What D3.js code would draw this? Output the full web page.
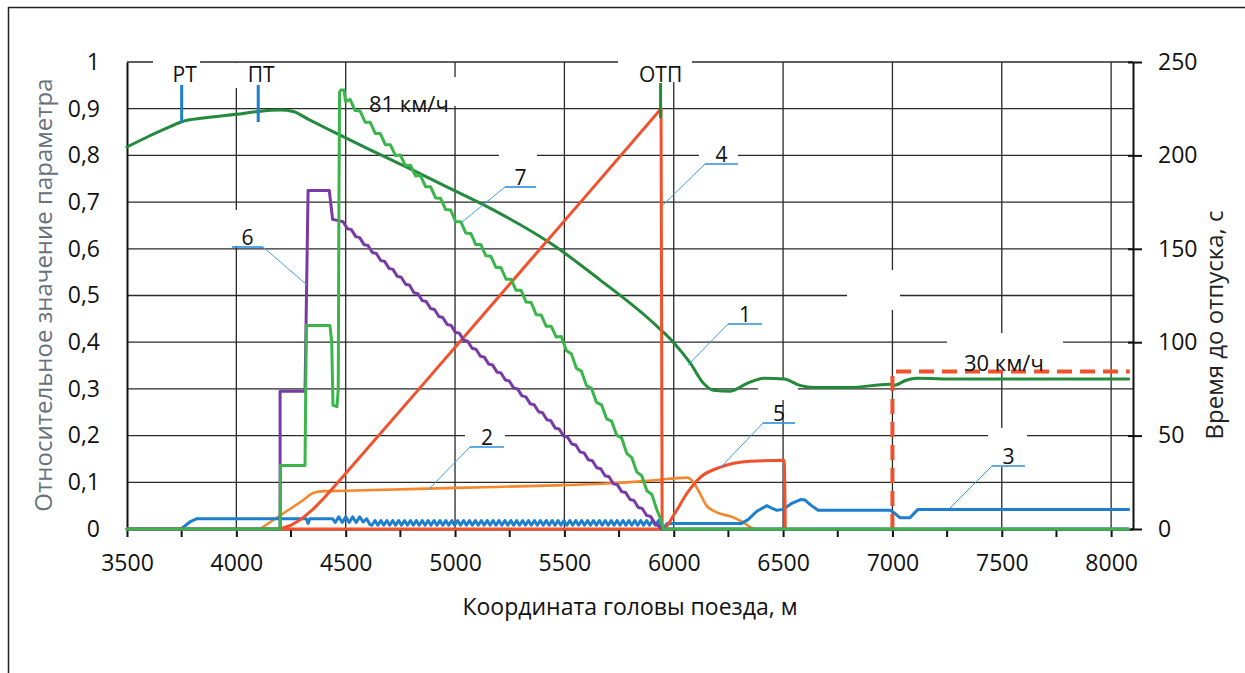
<!DOCTYPE html>
<html>
<head>
<meta charset="utf-8">
<script src="https://cdn.jsdelivr.net/npm/d3@7"></script>
<style>
body { margin: 0; background: #fff; }
text { font-family: "Open Sans", sans-serif; }
</style>
</head>
<body>
<svg id="mainsvg" width="1245" height="673"></svg>
<script>
// ---- data (x: координата, м; y: относительное значение) ----
const xTicks = [3500, 4000, 4500, 5000, 5500, 6000, 6500, 7000, 7500, 8000];
const xMinorTicks = [3750, 4250, 4750, 5250, 5750, 6250, 6750, 7250, 7750];
const yTicks = [0, 0.1, 0.2, 0.3, 0.4, 0.5, 0.6, 0.7, 0.8, 0.9, 1];
const yRightTicks = [0, 50, 100, 150, 200, 250];

// 1 - dark green
const series1 = [[3500,0.818],[3600,0.841],[3700,0.862],[3750,0.872],[3850,0.880],[4000,0.888],[4100,0.894],
  [4200,0.897],[4260,0.894],[4330,0.877],[4428,0.854],[4612,0.812],[4800,0.770],[5000,0.724],[5164,0.686],
  [5449,0.608],[5664,0.533],[5893,0.447],[5998,0.400],[6076,0.355],[6136,0.312],
  [6181,0.297],[6259,0.295],[6336,0.312],[6413,0.323],[6505,0.321],[6581,0.307],[6642,0.303],[6800,0.303],
  [6988,0.310],[7010,0.308],[7060,0.318],[7113,0.323],[7300,0.321],[8080,0.321]];

// 2 - orange
const series2 = [[4108,0],[4200,0.029],[4300,0.060],[4352,0.077],[4400,0.081],[4500,0.082],[5000,0.088],
  [5500,0.094],[5725,0.098],[5900,0.104],[6060,0.110],[6090,0.100],[6120,0.076],[6150,0.050],[6195,0.036],
  [6272,0.025],[6318,0.014],[6350,0.004],[6365,0]];

// 3 - blue
const series3 = [[3500,0],[3747,0],[3790,0.016],[3820,0.022],[4320,0.022],[4328,0.012],[4336,0.022],[4440,0.022],
  [4452,0.014],[4468,0.026],[4484,0.014],[4500,0.026],[4516,0.014],[4532,0.026],[4548,0.014],[4564,0.026],
  [4580,0.015],[4596,0.022],[4610,0.010],[4620,0.008],
  [4634,0.018],[4647,0.008],[4661,0.018],[4674,0.008],[4688,0.018],[4701,0.008],[4715,0.018],[4728,0.008],
  [4742,0.018],[4755,0.008],[4769,0.018],[4782,0.008],[4796,0.018],[4809,0.008],[4823,0.018],[4836,0.008],
  [4850,0.018],[4863,0.008],[4877,0.018],[4890,0.008],[4904,0.018],[4917,0.008],[4931,0.018],[4944,0.008],
  [4958,0.018],[4971,0.008],[4985,0.018],[4998,0.008],[5012,0.018],[5025,0.008],[5039,0.018],[5052,0.008],
  [5066,0.018],[5079,0.008],[5093,0.018],[5106,0.008],[5120,0.018],[5133,0.008],[5147,0.018],[5160,0.008],
  [5174,0.018],[5187,0.008],[5201,0.018],[5214,0.008],[5228,0.018],[5241,0.008],[5255,0.018],[5268,0.008],
  [5282,0.018],[5295,0.008],[5309,0.018],[5322,0.008],[5336,0.018],[5349,0.008],[5363,0.018],[5376,0.008],
  [5390,0.018],[5403,0.008],[5417,0.018],[5430,0.008],[5444,0.018],[5457,0.008],[5471,0.018],[5484,0.008],
  [5498,0.018],[5511,0.008],[5525,0.018],[5538,0.008],[5552,0.018],[5565,0.008],[5579,0.018],[5592,0.008],
  [5606,0.018],[5619,0.008],[5633,0.018],[5646,0.008],[5660,0.018],[5673,0.008],[5687,0.018],[5700,0.008],
  [5714,0.018],[5727,0.008],[5741,0.018],[5754,0.008],[5768,0.018],[5781,0.008],[5795,0.018],[5808,0.008],
  [5822,0.018],[5835,0.008],[5849,0.018],[5862,0.008],[5876,0.018],[5889,0.008],[5903,0.018],[5916,0.008],
  [5930,0.018],[5940,0.008],
  [5950,0],[5970,0.012],[6310,0.012],[6340,0.020],[6380,0.038],[6426,0.050],[6450,0.044],[6472,0.040],
  [6500,0.042],[6540,0.055],[6580,0.063],[6600,0.062],[6630,0.050],[6660,0.040],[6990,0.040],[7015,0.032],
  [7035,0.024],[7080,0.024],[7100,0.034],[7117,0.042],[8080,0.042]];

// 4 - red, время до отпуска, с (правая ось)
const series4 = [[4200,0],[4250,2],[4300,5.5],[4350,10.5],[4400,16.5],[4465,25],[4821,73],[5205,125],
  [5589,177],[5942,225],[5947,0]];

// 5 - red
const series5 = [[3500,0],[5952,0],[6000,0.030],[6060,0.076],[6120,0.110],[6211,0.132],[6348,0.145],
  [6505,0.147],[6510,0]];

// 6 - purple
const series6 = [[3500,0],[4200,0],[4200,0.295],[4314,0.295],[4328,0.725],[4425,0.725],[4440,0.663],
  [4470,0.660],[4488,0.658],[4508,0.643],[4526,0.641],[4546,0.626],[4564,0.624],[4584,0.609],[4602,0.607],
  [4622,0.592],[4640,0.590],[4660,0.575],[4678,0.573],[4698,0.558],[4716,0.556],[4736,0.541],[4754,0.539],
  [4774,0.524],[4792,0.522],[4812,0.506],[4830,0.504],[4850,0.489],[4868,0.487],[4888,0.472],[4906,0.470],
  [4926,0.455],[4944,0.453],[4964,0.438],[4982,0.436],[5002,0.421],[5020,0.419],[5040,0.404],[5058,0.402],
  [5078,0.387],[5096,0.385],[5116,0.370],[5134,0.368],[5154,0.353],[5172,0.351],[5192,0.336],[5210,0.334],
  [5230,0.319],[5248,0.317],[5268,0.302],[5286,0.300],[5306,0.285],[5324,0.283],[5344,0.268],[5362,0.266],
  [5382,0.251],[5400,0.249],[5420,0.234],[5438,0.232],[5458,0.216],[5476,0.214],[5496,0.199],[5514,0.197],
  [5534,0.182],[5552,0.180],[5572,0.165],[5590,0.163],[5610,0.148],[5628,0.146],[5648,0.131],[5666,0.129],
  [5686,0.114],[5704,0.112],[5724,0.097],[5742,0.095],[5762,0.080],[5780,0.078],[5800,0.063],[5818,0.061],
  [5838,0.046],[5856,0.044],[5876,0.029],[5894,0.027],[5914,0.012],[5932,0.006],[5945,0],[8080,0]];

// 7 - light green
const series7 = [[3500,0],[4200,0],[4202,0.136],[4314,0.136],[4320,0.436],[4428,0.436],[4436,0.40],
  [4442,0.265],[4460,0.262],[4466,0.30],[4469,0.70],[4472,0.935],[4478,0.94],[4492,0.94],[4500,0.915],
  [4510,0.918],[4520,0.920],[4543,0.896],[4566,0.895],[4589,0.871],[4612,0.871],[4635,0.847],[4658,0.847],
  [4681,0.823],[4704,0.823],[4727,0.800],[4750,0.801],[4773,0.778],[4796,0.779],[4819,0.756],[4842,0.757],
  [4865,0.733],[4888,0.733],[4911,0.709],[4934,0.708],[4957,0.684],[4980,0.683],[5003,0.658],[5026,0.658],
  [5049,0.634],[5072,0.633],[5095,0.609],[5118,0.609],[5141,0.585],[5164,0.584],[5187,0.560],[5210,0.560],
  [5233,0.535],[5256,0.535],[5279,0.511],[5302,0.511],[5325,0.486],[5348,0.485],[5371,0.459],[5394,0.458],
  [5417,0.434],[5440,0.434],[5463,0.411],[5486,0.412],[5509,0.382],[5532,0.375],[5555,0.344],[5578,0.338],
  [5601,0.307],[5624,0.301],[5647,0.271],[5670,0.266],[5693,0.236],[5716,0.231],[5739,0.201],[5762,0.195],
  [5785,0.162],[5808,0.153],[5831,0.122],[5854,0.114],[5877,0.082],[5900,0.074],[5923,0.041],[5937,0.025],
  [5952,0],[8080,0]];

// ограничение скорости 30 км/ч
const speedLimit = [[7000,0],[7000,0.337],[8085,0.337]];

const markers = [
  {label: 'РТ', x: 3750},
  {label: 'ПТ', x: 4100},
  {label: 'ОТП', x: 5940}
];

// ---- layout ----
const svg = d3.select('#mainsvg');
const width = +svg.attr('width');
const height = +svg.attr('height');
const margin = {top: 62, right: 112, bottom: 144, left: 127};
const innerWidth = width - margin.left - margin.right;
const innerHeight = height - margin.top - margin.bottom;

const xScale = d3.scaleLinear().domain([3500, 8100]).range([0, innerWidth]);
const yScale = d3.scaleLinear().domain([0, 1]).range([innerHeight, 0]);
const yRight = d3.scaleLinear().domain([0, 250]).range([innerHeight, 0]);

// outer frame
svg.append('rect')
  .attr('x', 8.5).attr('y', 7.5)
  .attr('width', 1300).attr('height', 700)
  .attr('fill', 'none').attr('stroke', '#222').attr('stroke-width', 1.5);

const g = svg.append('g').attr('id', 'maingroup')
  .attr('transform', `translate(${margin.left}, ${margin.top})`);
const gridG = g.append('g');
const gapG = g.append('g').attr('transform', `translate(${-margin.left}, ${-margin.top})`);
const axisG = g.append('g');
const seriesG = g.append('g');
const annoG = svg.append('g');

// grid
gridG.append('g').selectAll('line').data(yTicks.filter(d => d > 0)).join('line')
  .attr('x1', 0).attr('x2', innerWidth)
  .attr('y1', d => yScale(d)).attr('y2', d => yScale(d))
  .attr('stroke', '#2a2a2a').attr('stroke-width', 1.3);
gridG.append('g').selectAll('line').data(xTicks.filter(d => d > 3500)).join('line')
  .attr('x1', d => xScale(d)).attr('x2', d => xScale(d))
  .attr('y1', 0).attr('y2', innerHeight)
  .attr('stroke', '#2a2a2a').attr('stroke-width', 1.3);

// white boxes behind labels break the grid like in the original
const gaps = [[153,55,47,30],[228,63,58,25],[618,55,74,27],[360,77,100,29],[499,150,38,40],[699,148,39,20],
  [758,380,40,20],[465,425,40,20],[847,270,53,40],[947,333,116,40],[988,428,39,39],[225,210,40,36]];
gapG.selectAll('rect').data(gaps).join('rect')
  .attr('x', d => d[0]).attr('y', d => d[1]).attr('width', d => d[2]).attr('height', d => d[3])
  .attr('fill', '#fff');

// axes
const fmt = d => (d === 0 || d === 1) ? String(d) : d3.format('.1f')(d).replace('.', ',');
const yAxisG = axisG.append('g')
  .call(d3.axisLeft(yScale).tickValues(yTicks).tickFormat(fmt).tickSize(0).tickPadding(27));
yAxisG.select('.domain').attr('stroke', '#111').attr('stroke-width', 2);

const yRightG = axisG.append('g').attr('transform', `translate(${innerWidth}, 0)`)
  .call(d3.axisRight(yRight).tickValues(yRightTicks).tickSizeInner(9).tickSizeOuter(0).tickPadding(16));
yRightG.select('.domain').attr('stroke', '#111').attr('stroke-width', 2);
yRightG.selectAll('.tick line').attr('x1', -5).attr('stroke', '#111').attr('stroke-width', 2);

const xAxisG = axisG.append('g').attr('transform', `translate(0, ${innerHeight})`)
  .call(d3.axisBottom(xScale).tickValues(xTicks).tickFormat(d3.format('d'))
    .tickSizeInner(8).tickSizeOuter(0).tickPadding(18));
xAxisG.select('.domain').attr('stroke', '#111').attr('stroke-width', 2);
xAxisG.selectAll('.tick line').attr('stroke', '#111').attr('stroke-width', 2);
axisG.append('g').selectAll('line').data(xMinorTicks).join('line')
  .attr('x1', d => xScale(d)).attr('x2', d => xScale(d))
  .attr('y1', innerHeight).attr('y2', innerHeight + 8)
  .attr('stroke', '#111').attr('stroke-width', 2);

axisG.selectAll('.tick text').attr('font-size', 23).attr('fill', '#111')
  .attr('font-family', '"Open Sans", sans-serif');

// series
const lineL = (curve) => d3.line().x(d => xScale(d[0])).y(d => yScale(d[1])).curve(curve);
const lineR = d3.line().x(d => xScale(d[0])).y(d => yRight(d[1])).curve(d3.curveLinear);

const draw = (path, color, w) => seriesG.append('path')
  .attr('d', path).attr('fill', 'none').attr('stroke', color)
  .attr('stroke-width', w).attr('stroke-linejoin', 'round').attr('stroke-linecap', 'round');

draw(lineL(d3.curveMonotoneX)(series1), '#23893b', 3);
draw(lineL(d3.curveMonotoneX)(series2), '#f5872c', 2.6);
draw(lineL(d3.curveLinear)(series3), '#1f7fcf', 3);
draw(lineR(series4), '#f1512b', 3);
draw(lineL(d3.curveMonotoneX)(series5), '#f1512b', 3);
draw(lineL(d3.curveLinear)(series6), '#7a3aa5', 3);

seriesG.append('path')
  .attr('d', lineL(d3.curveLinear)(speedLimit))
  .attr('fill', 'none').attr('stroke', '#f0502a').attr('stroke-width', 4)
  .attr('stroke-dasharray', '15 8');

draw(lineL(d3.curveLinear)(series7), '#3ab54a', 3);

// markers РТ, ПТ, ОТП
const mk = seriesG.append('g');
mk.selectAll('line').data(markers).join('line')
  .attr('x1', d => xScale(d.x)).attr('x2', d => xScale(d.x))
  .attr('y1', (d, i) => i === 2 ? 21 : 23).attr('y2', (d, i) => i === 2 ? 56 : 60)
  .attr('stroke', (d, i) => i === 2 ? '#23893b' : '#1f7fcf').attr('stroke-width', 3);
mk.selectAll('text').data(markers).join('text')
  .attr('x', d => xScale(d.x) + (d.label === 'ОТП' ? 0 : 3))
  .attr('y', 20)
  .attr('text-anchor', 'middle').attr('font-size', 21).attr('fill', '#111')
  .text(d => d.label);

// speed annotations
annoG.append('text').attr('x', 369).attr('y', 112).attr('font-size', 22).attr('fill', '#111').text('81 км/ч');
annoG.append('text').attr('x', 964).attr('y', 371).attr('font-size', 22).attr('fill', '#111').text('30 км/ч');

// curve number callouts
const callouts = [
  {t: '6', x1: 232, x2: 263, y: 247, from: 'right', ex: 307, ey: 285},
  {t: '7', x1: 505, x2: 536, y: 187, from: 'left', ex: 462, ey: 222},
  {t: '4', x1: 705, x2: 738, y: 164, from: 'left', ex: 663, ey: 205},
  {t: '1', x1: 728, x2: 762, y: 324, from: 'left', ex: 688, ey: 365},
  {t: '2', x1: 470, x2: 504, y: 447, from: 'left', ex: 428, ey: 490},
  {t: '5', x1: 763, x2: 795, y: 423, from: 'left', ex: 720, ey: 468},
  {t: '3', x1: 992, x2: 1025, y: 466, from: 'left', ex: 950, ey: 508}
];
annoG.selectAll('line.under').data(callouts).join('line').attr('class', 'under')
  .attr('x1', d => d.x1).attr('x2', d => d.x2).attr('y1', d => d.y).attr('y2', d => d.y)
  .attr('stroke', '#2b8fdc').attr('stroke-width', 1.6);
annoG.selectAll('line.lead').data(callouts).join('line').attr('class', 'lead')
  .attr('x1', d => d.from === 'left' ? d.x1 : d.x2).attr('y1', d => d.y)
  .attr('x2', d => d.ex).attr('y2', d => d.ey)
  .attr('stroke', '#3fa0e4').attr('stroke-width', 1);
annoG.selectAll('text.num').data(callouts).join('text').attr('class', 'num')
  .attr('x', d => (d.x1 + d.x2) / 2).attr('y', d => d.y - 2)
  .attr('text-anchor', 'middle').attr('font-size', 21).attr('fill', '#111')
  .text(d => d.t);

// axis titles
annoG.append('text').attr('x', 630).attr('y', 615).attr('text-anchor', 'middle')
  .attr('font-size', 23).attr('fill', '#111').text('Координата головы поезда, м');
annoG.append('text').attr('transform', 'translate(52, 295) rotate(-90)').attr('text-anchor', 'middle')
  .attr('font-size', 24).attr('fill', '#67717c').text('Относительное значение параметра');
annoG.append('text').attr('transform', 'translate(1223, 325) rotate(-90)').attr('text-anchor', 'middle')
  .attr('font-size', 24).attr('fill', '#222').text('Время до отпуска, с');
</script>
</body>
</html>
